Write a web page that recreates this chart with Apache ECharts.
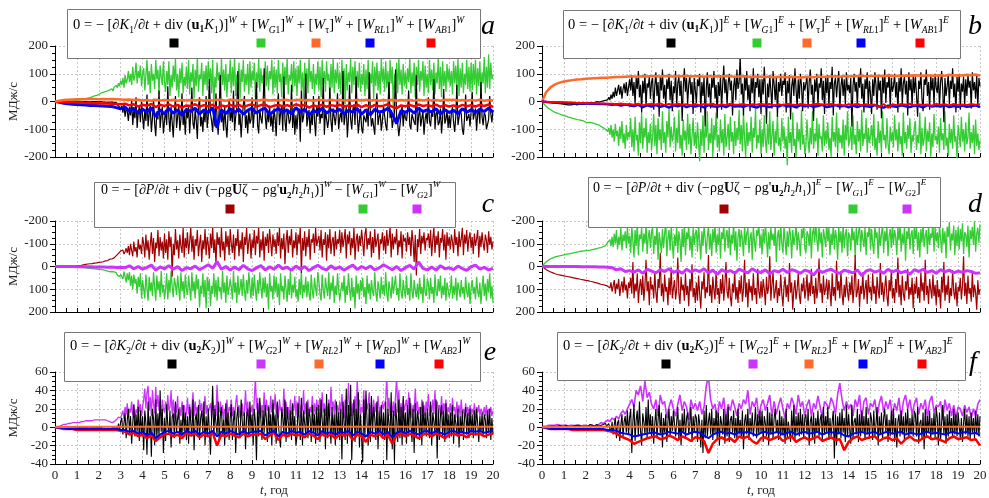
<!DOCTYPE html>
<html>
<head>
<meta charset="utf-8">
<script src="https://cdn.jsdelivr.net/npm/echarts@6/dist/echarts.min.js"></script>
<style>
  html, body { margin: 0; padding: 0; background: #fff; }
  #main { width: 989px; height: 498px; }
</style>
</head>
<body>
<div id="main"></div>
<script>
// time steps of the sampled series (years)
var stepDense = 0.05, stepMid = 0.2, stepYear = 1;

// ---- panel a : K1, west (20 samples per year) ----
var aGreen = [0,
  0,0,1,0,1,0,1,1,2,1,1,2,1,2,2,3,2,3,3,4,
  4,5,5,6,7,8,9,10,11,12,13,14,15,17,18,20,21,22,24,25,
  26,30,27,33,29,36,32,38,35,42,40,46,38,52,45,58,50,66,55,75,
  60,85,50,95,65,80,110,70,100,60,125,75,95,140,65,110,85,130,55,100,
  120,40,95,150,60,110,30,135,75,100,45,150,80,115,25,130,90,60,145,70,
  35,110,60,145,20,95,50,130,70,155,40,100,15,120,65,140,30,90,55,125,
  45,150,25,105,70,135,10,115,55,160,35,95,80,140,20,110,60,130,40,145,
  65,120,30,150,-20,90,50,140,75,105,25,155,60,115,40,135,15,100,70,150,
  30,125,55,160,20,95,45,140,10,115,70,150,35,100,60,135,25,145,50,110,
  75,140,15,105,50,155,35,120,65,95,20,145,55,130,40,110,80,150,25,125,
  50,115,30,150,70,100,15,140,45,125,60,155,25,95,75,135,35,145,55,120,
  20,130,65,150,40,105,10,140,55,120,30,155,70,110,45,135,25,100,60,145,
  40,125,15,150,60,110,35,145,75,100,20,135,50,155,30,115,65,140,45,105,
  25,150,55,120,-10,135,40,105,70,155,30,125,60,145,15,110,50,140,35,100,
  60,135,20,115,45,150,30,100,65,145,10,125,55,140,40,110,25,155,70,120,
  35,145,50,110,20,150,65,125,-40,100,45,140,30,155,60,115,25,135,55,105,
  45,120,70,155,30,105,55,140,15,125,60,150,35,110,75,145,20,130,50,100,
  30,150,60,115,40,140,25,105,65,155,45,125,15,145,55,110,35,135,70,120,
  55,110,25,145,65,130,40,155,20,120,50,140,30,100,60,150,45,125,35,140,
  40,135,60,150,25,120,55,145,35,105,65,160,30,125,50,170,45,140,80,95];
var aBlack = [0,
  0,0,0,0,0,0,0,0,0,0,0,0,0,0,0,0,0,0,0,0,
  0,0,0,-1,0,0,-1,0,0,-1,0,-1,0,0,-1,0,-1,0,0,-1,
  -1,0,-1,-2,-1,-2,0,-3,-1,-2,-4,-2,-5,-3,-8,-4,-12,-6,-20,-30,
  -15,-40,-10,-55,-25,-35,-70,-20,-50,5,-85,-30,-60,15,-95,-40,-20,-75,0,-55,
  -100,-30,-70,25,-90,-45,-15,-110,-60,10,-80,-125,-35,-65,40,-95,-50,-20,-115,-70,
  -30,-85,55,-60,-110,-20,-75,-130,-40,20,-95,-55,-10,-105,-65,30,-85,-45,-120,-25,
  -60,-15,-115,-40,50,-80,-100,-30,-70,-135,-20,15,-90,-55,-110,-35,-75,20,-95,-50,
  80,-45,-70,-110,-25,-90,30,-60,-120,-15,95,-75,-40,-105,-20,-85,-130,-50,5,-70,
  -35,-75,40,-105,-55,-25,110,-85,-45,-130,-60,-10,20,-95,-50,-115,-30,-80,-65,15,
  -95,-40,-10,70,-85,-115,-30,-60,-80,-20,120,-55,-100,-35,-75,-15,-90,-50,-110,-25,
  -60,-125,-20,30,-85,-40,-15,-105,90,-70,-110,-30,-45,-80,-65,60,-95,-25,-120,-50,
  -100,-35,-25,-145,40,-75,-55,-15,100,-90,-60,-30,-115,-45,-85,20,-70,-125,-20,-55,
  20,-80,-45,-60,85,-120,-30,-35,-95,-65,50,-70,-110,-25,-55,-85,-40,30,-100,-60,
  -40,-75,110,-85,-50,-20,-130,-60,60,-65,-100,-30,-10,-85,90,-45,-115,-70,-25,-95,
  -115,-50,-45,-75,-25,-90,105,-35,-90,-60,-60,-120,-20,30,-85,-55,-40,-105,-70,-15,
  -50,-85,-105,-30,70,-60,-30,-95,-65,-40,115,-70,-80,-125,-125,-50,-15,-90,-35,-60,
  -70,-30,40,-85,-100,-45,-45,-75,-85,95,-110,-55,-20,-90,-60,-35,-120,-65,-40,-80,
  15,-70,-90,-35,-55,80,-100,-45,-35,-85,-75,-25,-115,-60,45,-80,-65,-30,-95,-50,
  -95,-40,-20,-75,-110,-55,60,-85,-80,-30,-45,-100,-120,-60,25,-70,-70,-45,-90,-35,
  35,-65,-60,-25,-105,-45,-30,-80,70,-55,-85,-40,-50,-100,-95,-65,20,-45,-75,-30];
var aBlue = [0,
  -3,-6,-8,-10,-11,
  -12,-13,-14,-14,-15,
  -16,-17,-18,-22,-26,
  -20,-35,-24,-42,-28,
  -38,-22,-55,-30,-45,
  -25,-42,-30,-50,-28,
  -36,-24,-45,-30,-40,
  -22,-95,-30,-44,-26,
  -40,-28,-46,-32,-24,
  -42,-30,-25,-48,-34,
  -26,-40,-30,-45,-22,
  -38,-28,-50,-32,-40,
  -24,-42,-30,-36,-28,
  -44,-32,-38,-26,-46,
  -30,-48,-28,-38,-34,
  -24,-45,-80,-32,-40,
  -28,-42,-24,-36,-30,
  -38,-26,-45,-30,-40,
  -32,-44,-26,-38,-30,
  -40,-28,-36,-24,-38];
var aRed = [0,
  -1,-2,-3,-3,-4,
  -4,-5,-5,-6,-6,
  -7,-7,-8,-9,-10,
  -8,-14,-10,-18,-12,
  -15,-9,-20,-12,-16,
  -10,-18,-12,-22,-14,
  -16,-10,-19,-13,-17,
  -11,-24,-14,-18,-12,
  -17,-12,-20,-14,-10,
  -18,-13,-11,-21,-15,
  -12,-17,-13,-19,-10,
  -16,-12,-22,-14,-18,
  -11,-19,-13,-16,-12,
  -18,-14,-17,-11,-20,
  -13,-21,-12,-17,-15,
  -10,-19,-24,-14,-17,
  -12,-18,-11,-16,-13,
  -17,-11,-19,-13,-18,
  -14,-19,-12,-17,-13,
  -18,-12,-16,-11,-20];
var aOrange = [0,
  3,5,6,7,8,
  8,8,9,9,8,
  9,8,9,8,7,
  6,7,5,6,4,
  5,3,6,4,5,
  4,6,3,5,4,
  5,4,6,3,5,
  4,6,5,3,6,
  5,4,6,4,5,
  3,5,6,4,5,
  4,6,5,3,5,
  6,4,5,3,6,
  5,3,6,4,5,
  4,5,3,6,4,
  6,4,5,3,5,
  4,6,3,5,4,
  5,3,6,4,6,
  4,5,3,6,5,
  6,4,5,3,5,
  4,6,3,5,4];

// ---- panel b : K1, east ----
var bGreen = [0,
  -5,-10,-14,-18,-21,-25,-28,-30,-33,-35,-37,-39,-41,-42,-44,-45,-47,-48,-50,-51,
  -52,-53,-55,-56,-57,-58,-60,-61,-62,-63,-64,-65,-67,-66,-70,-68,-72,-70,-74,-75,
  -74,-76,-78,-75,-80,-77,-83,-80,-85,-82,-88,-85,-84,-90,-88,-95,-92,-100,-98,-108,
  -95,-120,-85,-130,-100,-145,-80,-125,-105,-160,-90,-135,-70,-150,-115,-170,-85,-140,-110,-130,
  -60,-165,-100,-180,-55,-140,-120,-195,-75,-150,-40,-170,-95,-130,-60,-185,-110,-150,-80,-175,
  -130,-45,-160,-85,-190,-60,-140,-100,-175,-35,-150,-110,-185,-70,-130,-25,-165,-90,-145,-120,
  -55,-180,-95,-150,-30,-170,-120,-195,-65,-140,-105,-175,-45,-155,-80,-190,-125,-60,-160,-110,
  -170,-75,-145,-215,-100,-160,-50,-185,-90,-130,-35,-175,-115,-150,-60,-200,-85,-140,-40,-165,
  -120,-180,-65,-150,-100,-195,-45,-165,-130,-80,-175,-55,-145,-110,-190,-70,-160,-95,-140,-30,
  -155,-85,-180,-40,-135,-200,-75,-160,-110,-145,-55,-185,-95,-130,-25,-170,-120,-150,-65,-190,
  -100,-165,-50,-140,-185,-80,-155,-35,-175,-120,-70,-195,-105,-150,-45,-160,-130,-180,-60,-145,
  -90,-170,-125,-230,-55,-150,-110,-185,-40,-160,-135,-200,-75,-145,-100,-175,-30,-155,-120,-190,
  -160,-65,-140,-185,-95,-155,-35,-170,-115,-145,-60,-195,-80,-135,-125,-180,-50,-160,-105,-150,
  -75,-175,-130,-200,-55,-145,-110,-165,-40,-185,-95,-150,-120,-170,-65,-195,-85,-140,-35,-160,
  -140,-90,-175,-50,-155,-120,-190,-70,-145,-100,-180,-30,-160,-115,-135,-60,-185,-95,-150,-125,
  -85,-160,-45,-175,-130,-195,-70,-150,-105,-185,-35,-140,-120,-170,-60,-155,-190,-90,-145,-110,
  -165,-50,-140,-100,-180,-75,-155,-125,-195,-40,-150,-110,-170,-85,-135,-60,-185,-120,-145,-95,
  -70,-175,-120,-150,-40,-190,-95,-160,-135,-55,-180,-105,-145,-75,-200,-115,-165,-45,-140,-125,
  -155,-90,-185,-60,-140,-115,-175,-35,-160,-130,-195,-80,-150,-100,-170,-50,-145,-125,-205,-85,
  -120,-165,-55,-145,-100,-180,-75,-155,-130,-40,-170,-110,-150,-85,-190,-65,-160,-115,-175,-140];
var bBlack = [0,
  0,-1,-1,-2,-2,-3,-3,-4,-5,-5,-6,-6,-7,-7,-8,-8,-9,-9,-10,-10,
  -10,-11,-10,-12,-11,-12,-13,-11,-12,-10,-11,-12,-10,-9,-11,-10,-9,-10,-8,-9,
  -8,-7,-6,-5,-7,-4,-3,-5,-2,0,1,-2,3,0,5,2,8,4,10,6,
  15,5,25,10,35,15,50,20,40,60,25,55,10,45,65,30,70,20,50,80,
  40,95,20,70,-10,85,45,110,15,60,-40,75,30,100,-20,65,50,90,10,70,
  85,-30,55,105,20,70,-55,90,40,115,10,60,-20,80,45,100,5,75,-35,55,
  30,110,-15,65,90,20,75,-70,50,120,35,85,-10,60,95,25,70,-45,85,40,
  -5,80,55,100,-40,70,20,90,-90,45,105,15,65,-25,85,50,110,10,60,-60,
  70,20,95,-30,60,130,30,80,-15,65,100,40,75,-50,55,90,5,115,45,70,
  160,25,65,-50,95,40,110,5,60,-35,85,30,120,-20,70,50,100,15,80,-45,
  80,25,125,45,-80,65,15,95,40,-25,110,60,5,85,-55,70,35,100,20,75,
  60,105,-40,75,30,95,-65,55,85,20,120,45,-25,80,10,100,55,-35,70,40,
  45,90,-25,70,115,25,60,-70,80,35,100,-15,65,50,120,5,75,-45,90,30,
  95,-20,70,45,125,-50,65,85,15,70,110,-30,55,90,20,80,-10,105,40,60,
  30,85,-90,55,100,35,70,-20,95,50,120,10,65,-40,80,45,105,-15,75,25,
  -45,80,20,105,60,-30,90,40,75,-60,95,30,115,-5,70,50,100,-25,85,35,
  55,100,15,70,-40,85,35,120,-10,65,90,25,75,-50,105,40,80,-20,95,30,
  90,25,-55,75,45,105,10,-35,80,60,115,20,70,-30,95,40,85,-15,100,50,
  30,95,-20,70,110,40,-75,85,20,55,100,-10,75,45,120,15,65,-40,90,35,
  100,-30,65,35,90,-15,80,20,95,50,75,-25,105,40,70,10,95,-20,85,55];
var bOrange = [0,
  35,52,62,68,72,
  75,77,79,80,82,
  83,84,85,86,86,
  87,88,88,89,90,
  90,89,91,90,92,
  91,90,92,91,90,
  92,91,93,90,92,
  91,89,92,90,91,
  90,92,91,89,90,
  91,90,88,90,89,
  88,90,87,89,88,
  87,89,88,86,88,
  89,87,90,88,89,
  90,91,89,92,90,
  91,92,93,91,92,
  92,93,91,94,92,
  93,92,94,93,95,
  94,92,95,93,94,
  95,93,96,94,95,
  94,96,95,97,93];
var bBlue = [0,
  -2,-3,-4,-4,-5,
  -5,-6,-6,-7,-7,
  -8,-8,-9,-9,-10,
  -12,-10,-15,-11,-14,
  -16,-12,-20,-14,-18,
  -13,-19,-15,-22,-14,
  -17,-12,-20,-15,-18,
  -14,-21,-13,-17,-19,
  -15,-20,-12,-18,-16,
  -19,-13,-17,-22,-14,
  -16,-20,-14,-18,-12,
  -18,-15,-21,-13,-17,
  -14,-19,-16,-12,-20,
  -17,-13,-18,-15,-21,
  -15,-20,-14,-17,-19,
  -13,-18,-22,-15,-17,
  -19,-14,-17,-20,-15,
  -16,-21,-13,-18,-15,
  -18,-14,-20,-16,-19,
  -15,-19,-17,-14,-20];
var bRed = [0,
  -1,-2,-2,-3,-3,
  -4,-4,-5,-5,-5,
  -6,-6,-7,-7,-8,
  -8,-10,-7,-11,-9,
  -12,-8,-14,-10,-9,
  -11,-7,-13,-9,-12,
  -8,-12,-10,-14,-9,
  -13,-9,-11,-8,-15,
  -10,-13,-8,-12,-11,
  -9,-14,-10,-12,-8,
  -12,-9,-15,-10,-13,
  -8,-11,-13,-9,-12,
  -14,-10,-8,-12,-11,
  -9,-13,-11,-15,-10,
  -12,-8,-14,-10,-13,
  -11,-20,-9,-22,-10,
  -13,-9,-12,-8,-14,
  -10,-13,-11,-15,-9,
  -12,-10,-14,-9,-13,
  -11,-13,-9,-12,-10];

// ---- panel c : P, west (axis inverted) ----
var cRed = [0,
  0,0,0,-1,0,-1,0,-1,-1,-1,-2,-1,-2,-2,-1,-2,-3,-2,-3,-3,
  -4,-4,-5,-5,-6,-7,-8,-9,-10,-11,-12,-12,-11,-13,-14,-15,-14,-16,-17,-18,
  -18,-19,-20,-21,-22,-25,-28,-26,-30,-32,-30,-33,-35,-38,-42,-48,-52,-58,-62,-68,
  -60,-72,-55,-65,-80,-60,-90,-50,-100,-70,-45,-110,-65,-85,-40,-120,-75,-95,-55,-130,
  -100,-40,-140,-70,-115,-30,-95,-150,-55,-125,-20,-105,-80,-160,-45,-130,-70,-110,-35,-145,
  -60,-120,-30,-155,-85,-130,45,-100,-50,-165,-75,-115,-35,-140,-90,-60,-170,-40,-125,-80,
  -150,-55,-110,-170,-65,-135,-30,-120,-90,-160,-45,-100,-140,-20,-115,-75,-165,-50,-130,-95,
  -35,-145,-80,-175,-60,-120,-10,-150,-95,-130,-40,-170,-70,-110,-25,-155,-85,-135,-50,-165,
  -100,-60,-140,-30,-125,-90,-165,-45,-115,-75,-150,-20,-130,-95,-170,-55,-110,-145,-35,-120,
  -80,-160,-50,-135,-100,-175,-40,-120,-70,-155,-25,-130,-90,-145,-60,-165,-105,-45,-140,-85,
  -120,-55,-150,-90,-170,-35,-125,-75,-145,-10,-110,-160,-60,-135,-95,-165,-40,-115,-80,-150,
  -50,-140,-100,-175,30,-125,-70,-155,-45,-130,-85,-165,-30,-120,-105,-145,-60,-170,-90,-115,
  -135,-70,-160,-40,-120,-95,-150,-25,-140,-80,-165,-55,-110,-130,-45,-155,-75,-120,-100,-160,
  -60,-150,-85,-120,-165,-35,-140,-100,-155,-50,-125,-80,-170,-30,-115,-145,-65,-135,-90,-160,
  -110,-45,-140,-170,-75,-125,-95,-155,-40,-130,-60,-165,-85,-115,-145,-30,-120,-100,-150,-70,
  -135,-55,-160,-90,-120,-175,-40,-145,-75,-130,-100,-165,-50,-115,-85,-155,-35,-140,-110,-125,
  -65,-150,-95,-130,-45,-160,-110,-20,-140,40,-120,-85,-165,-55,-135,-100,-150,-70,-125,-115,
  -145,-80,-160,-45,-120,-170,-60,-135,-95,-155,-40,-125,-105,-165,-70,-140,-30,-150,-90,-130,
  -75,-140,-110,-60,-165,-95,-130,-45,-155,-85,-120,-170,-50,-140,-100,-160,-65,-125,-150,-80,
  -130,-55,-145,-90,-120,-160,-40,-135,-85,-150,-100,-70,-140,-115,-60,-155,-95,-130,-75,-110];
var cGreen = [0,
  0,0,0,0,0,1,1,1,1,1,1,2,2,2,2,2,3,3,3,3,
  3,4,4,4,5,5,5,6,6,7,7,8,8,9,9,10,10,11,11,12,
  12,13,14,15,16,17,18,20,21,23,25,22,28,24,32,27,38,30,45,35,
  28,55,22,45,70,30,60,25,85,40,100,35,75,55,120,45,90,30,140,60,
  60,140,35,95,150,45,110,70,130,25,90,150,40,105,65,135,20,115,80,145,
  100,30,145,60,115,20,90,135,50,80,125,40,95,150,25,110,65,140,35,100,
  125,40,95,150,25,110,65,140,35,100,55,180,85,120,30,135,60,185,45,110,
  55,175,85,120,30,135,60,150,45,110,90,145,20,115,70,160,40,125,95,55,
  90,145,20,115,70,160,40,125,95,55,130,35,105,150,60,120,25,90,140,50,
  130,35,105,150,60,120,25,90,140,50,115,45,135,75,190,30,110,85,145,40,
  115,45,135,75,170,30,110,85,145,40,100,155,55,125,20,140,80,115,45,135,
  100,155,55,125,20,140,80,115,45,135,65,120,150,35,105,140,50,95,130,25,
  65,120,150,35,105,140,50,95,130,25,145,70,110,40,160,85,125,30,100,150,
  145,70,110,40,160,85,125,30,100,150,50,135,90,185,40,120,75,145,60,110,
  50,135,90,165,40,120,75,145,60,110,130,25,115,155,65,100,140,45,120,80,
  130,25,115,155,65,100,140,45,120,80,40,125,95,150,30,110,140,60,105,135,
  40,125,95,150,30,110,140,60,105,135,75,145,50,120,90,160,35,115,130,55,
  75,145,50,120,90,160,35,115,130,55,110,40,140,85,125,50,150,70,100,135,
  110,40,140,85,125,50,150,70,100,135,60,120,90,145,45,110,135,70,165,95,
  60,120,90,145,45,110,135,70,165,95,40,130,75,150,55,115,30,140,85,160];
var cMag = [0,
  0,0,0,0,1,
  1,1,1,2,2,
  2,3,2,4,3,
  5,-3,10,0,12,
  4,-6,15,2,10,
  -4,12,0,18,5,
  10,-2,14,3,-8,
  8,-22,12,0,16,
  2,14,-5,10,18,
  6,-4,15,1,12,
  -6,10,3,16,-2,
  12,0,18,5,-5,
  8,15,-3,11,2,
  16,4,-6,13,0,
  10,-2,15,6,-8,
  3,14,0,18,5,
  -5,11,-20,8,15,
  2,16,-4,10,6,
  14,-2,9,17,1,
  -6,12,4,15,8];

// ---- panel d : P, east (axis inverted) ----
var dGreen = [0,
  -6,-12,-17,-21,-25,-28,-31,-34,-36,-38,-40,-42,-44,-45,-46,-47,-48,-49,-50,-51,
  -52,-53,-54,-55,-56,-57,-58,-59,-60,-61,-62,-63,-64,-65,-66,-67,-68,-69,-70,-70,
  -70,-71,-73,-72,-75,-74,-77,-76,-80,-78,-84,-82,-86,-83,-90,-88,-95,-92,-100,-106,
  -98,-118,-90,-130,-85,-145,-100,-160,-75,-130,-95,-170,-70,-140,-110,-155,-80,-175,-100,-135,
  -60,-175,-110,-40,-160,-90,-190,-50,-140,-120,-170,-65,-145,-100,-185,-55,-130,-160,-80,-150,
  -170,-55,-135,-95,-185,-30,-150,-110,-60,-165,-80,-145,-195,-45,-125,-160,-70,-180,-100,-35,
  -140,-90,-175,-60,-155,-115,-20,-165,-85,-190,-50,-150,-120,-180,-70,-135,-40,-170,-95,-145,
  -160,-65,-185,-110,-30,-155,-90,-175,-125,-55,-130,-180,-75,-145,-45,-165,-105,-190,-60,-140,
  -95,-170,-35,-150,-120,-185,-65,-135,-160,-80,-175,-50,-140,-100,-195,-70,-155,-25,-130,-165,
  -85,-160,-120,-45,-180,-95,-145,-170,-60,-125,-150,-30,-175,-110,-65,-160,-135,-190,-80,-140,
  -55,-165,-100,-185,-125,-40,-150,-75,-170,-115,-145,-90,-180,-20,-135,-160,-70,-190,-105,-60,
  -175,-115,-50,-155,-85,-170,-140,-35,-160,-95,-130,-185,-70,-150,-110,-45,-165,-125,-195,-80,
  -60,-155,-140,-90,-175,-35,-145,-170,-105,-190,-120,-65,-180,-100,-150,-40,-165,-130,-85,-200,
  -110,-170,-50,-145,-95,-185,-75,-160,-125,-30,-175,-105,-155,-60,-190,-80,-140,-165,-45,-150,
  -135,-70,-180,-115,-155,-40,-170,-95,-145,-190,-65,-160,-120,-85,-175,-50,-150,-130,-195,-75,
  -165,-100,-55,-180,-125,-150,-35,-170,-90,-140,-185,-60,-155,-110,-175,-45,-135,-165,-80,-190,
  -95,-160,-130,-50,-175,-115,-185,-65,-145,-100,-170,-25,-155,-120,-190,-75,-140,-160,-55,-180,
  -120,-175,-70,-150,-40,-165,-105,-185,-85,-135,-160,-55,-180,-95,-145,-125,-195,-65,-170,-110,
  -150,-80,-185,-120,-60,-170,-100,-155,-35,-175,-130,-195,-70,-145,-115,-180,-50,-160,-90,-175,
  -75,-165,-110,-190,-55,-150,-140,-85,-180,-40,-160,-120,-175,-95,-200,-65,-145,-170,-105,-185];
var dRed = [0,
  3,7,11,14,17,20,22,24,26,28,30,32,34,35,36,37,38,39,40,41,
  42,43,44,45,46,47,48,49,50,51,52,53,54,55,56,57,58,59,60,61,
  60,62,63,65,64,67,66,70,68,72,71,75,73,78,76,80,78,83,81,86,
  80,95,70,110,85,60,120,75,100,55,130,90,65,115,45,105,80,140,70,95,
  50,120,-20,140,75,110,30,160,90,55,125,40,150,85,-30,110,65,170,45,100,
  80,140,20,115,160,55,95,-60,130,75,155,35,110,90,170,50,125,5,140,95,
  60,145,100,-40,120,165,45,105,80,150,30,125,85,175,55,110,-10,135,95,160,
  70,150,40,120,185,65,100,25,140,90,115,-50,130,80,160,45,105,145,20,125,
  95,165,55,120,35,150,80,-20,110,140,50,130,175,75,115,20,145,90,160,60,
  120,40,155,100,-30,135,70,180,55,115,85,150,30,125,95,165,10,110,140,65,
  135,55,100,170,45,120,90,-45,150,80,25,140,110,60,160,95,130,35,120,175,
  90,45,135,80,155,-15,115,70,190,100,60,145,100,30,125,165,75,110,50,140,
  105,35,150,70,130,10,120,85,165,50,140,95,-35,115,75,160,40,125,100,55,
  145,60,110,175,30,130,90,150,-25,105,65,140,20,120,170,80,135,45,110,150,
  70,125,40,160,95,-50,135,110,55,180,85,120,25,145,100,60,165,35,115,90,
  150,30,120,85,165,45,105,140,-15,125,70,155,95,40,130,175,60,110,20,140,
  95,160,55,115,-40,135,80,170,40,120,150,65,105,10,145,90,125,50,185,75,
  120,45,140,90,160,25,110,70,150,-30,125,85,165,55,100,140,35,130,80,170,
  60,135,100,185,45,115,-20,150,80,125,40,160,95,130,15,110,145,70,175,90,
  110,50,145,85,-45,130,70,165,40,120,95,155,25,135,80,115,190,60,125,100];
var dMag = [0,
  0,0,0,0,0,
  0,0,0,1,1,
  1,1,2,2,3,
  5,15,10,22,18,
  25,15,30,12,20,
  28,14,22,10,26,
  18,30,12,24,15,
  22,10,28,16,35,
  14,24,18,30,12,
  20,28,10,22,26,
  15,32,18,24,12,
  26,14,20,30,16,
  22,38,14,26,18,
  12,24,30,16,22,
  28,15,40,20,14,
  25,18,30,12,24,
  16,28,20,34,14,
  22,12,26,18,30,
  14,24,16,28,20,
  26,18,22,30,28];

// ---- panel e : K2, west ----
var eMag = [0,
  0,1,1,1,2,2,2,3,3,3,3,4,4,4,4,5,5,5,5,5,
  5,5,6,6,6,6,6,7,7,7,7,7,8,7,8,8,8,8,8,8,
  8,8,9,8,9,8,8,7,7,6,6,5,5,6,7,8,9,11,13,10,
  12,18,9,22,14,26,11,20,16,28,13,24,10,19,15,30,17,25,12,22,
  30,42,20,38,45,18,33,12,40,25,15,44,22,35,18,28,12,30,20,16,
  28,12,35,18,22,40,14,30,10,26,16,34,8,22,12,28,18,24,10,15,
  32,14,25,10,20,38,12,28,15,22,10,30,18,26,12,20,34,14,24,16,
  14,26,10,30,18,24,12,46,20,16,28,12,24,8,20,14,30,10,22,18,
  30,12,22,8,26,35,16,24,10,20,26,12,18,40,14,28,10,22,16,24,
  12,30,55,20,32,14,28,10,24,16,38,12,30,18,24,10,34,16,26,20,
  36,14,26,10,30,18,22,12,42,16,28,12,22,8,30,14,24,18,34,12,
  28,15,34,10,24,18,40,14,26,10,30,12,22,16,34,12,26,14,30,18,
  18,32,10,38,16,26,12,24,14,30,12,44,20,28,14,30,18,24,12,28,
  14,36,22,10,30,16,24,48,18,28,12,26,16,34,12,52,24,30,14,22,
  16,40,12,30,20,26,38,14,24,10,30,16,26,12,34,18,22,14,28,20,
  22,30,55,18,32,12,26,16,28,12,34,55,16,40,14,26,10,30,18,24,
  30,12,38,20,26,10,24,16,42,18,28,14,22,10,30,16,24,12,28,18,
  36,12,24,16,30,14,40,10,28,20,24,12,34,14,26,18,30,12,22,16,
  26,12,32,18,22,10,28,16,24,12,30,14,20,10,26,16,22,12,24,14,
  20,14,26,10,22,16,24,12,20,18,14,22,12,24,10,20,16,22,12,18];
var eBlack = [0,
  0,0,0,0,0,0,0,0,0,0,0,0,0,0,0,0,0,0,0,0,
  0,0,0,-1,0,0,-1,0,0,-1,0,-1,0,0,-1,0,-1,0,0,-1,
  -1,0,-1,-2,-1,-2,0,-3,-1,-2,-2,-1,-3,0,-2,1,-3,4,-4,6,
  10,-8,5,15,-12,8,20,-6,12,-18,4,25,-10,14,-5,22,-15,18,-8,12,
  -25,18,5,-30,28,-10,12,-32,20,8,-20,30,-12,15,-10,40,-5,20,-28,10,
  -15,25,2,-8,18,-22,12,15,-12,28,-6,10,20,-18,8,-10,24,-4,16,-14,
  12,-18,22,5,-10,30,-25,8,15,-8,24,-14,10,18,-6,28,-20,12,-10,20,
  18,-30,10,45,-12,20,4,-8,28,-16,14,22,-10,8,-20,26,-6,16,-14,10,
  25,-14,8,18,-28,10,22,-5,-12,30,6,-8,16,-24,12,20,-10,28,-6,14,
  -20,20,5,-36,26,-10,32,8,-14,18,-6,24,10,-16,22,-8,14,-20,30,-4,
  14,-18,28,4,-12,-22,20,10,-8,30,-16,22,6,-10,18,-14,26,-6,12,-20,
  -10,26,6,-14,32,-20,18,4,-8,28,-12,20,10,-16,24,-6,14,-18,22,-8,
  24,-16,30,8,-10,20,-24,36,-12,26,6,-18,22,-8,14,-20,28,-10,16,-14,
  20,-35,28,6,-14,42,-18,24,-10,46,-36,12,30,-16,20,-8,38,-22,14,-12,
  -38,30,-12,40,6,-20,26,-16,34,-8,22,10,-14,28,-24,18,-6,24,-12,16,
  -14,28,-36,20,4,-10,38,-24,18,-38,26,8,-16,30,-12,22,-20,34,-8,16,
  -18,24,-10,32,6,-16,20,-28,26,-12,18,8,-14,22,-20,28,-6,16,-10,20,
  22,-12,28,-20,16,6,-8,30,-34,20,-14,12,24,-10,18,-16,26,-6,14,-12,
  16,-10,24,-18,14,4,-8,20,-22,12,-6,18,-14,10,22,-8,16,-12,20,-6,
  14,-12,18,-8,20,4,-16,12,-6,16,-10,14,8,-12,18,-6,20,-14,10,-8];
var eBlue = [0,
  -1,-1,-2,-2,-2,
  -2,-2,-2,-2,-2,
  -2,-2,-2,-2,-3,
  -3,-5,-4,-7,-5,
  -9,-6,-12,-8,-5,
  -4,-7,-5,-8,-4,
  -6,-4,-8,-5,-7,
  -4,-10,-5,-7,-4,
  -6,-8,-4,-7,-5,
  -5,-4,-9,-6,-4,
  -10,-5,-7,-4,-6,
  -5,-8,-4,-6,-9,
  -4,-7,-5,-8,-5,
  -6,-4,-9,-5,-7,
  -10,-5,-7,-4,-8,
  -5,-11,-6,-4,-7,
  -4,-6,-8,-5,-4,
  -7,-4,-6,-8,-5,
  -4,-6,-5,-7,-4,
  -5,-4,-6,-5,-4];
var eRed = [0,
  -1,-2,-2,-2,-3,
  -3,-3,-3,-3,-3,
  -3,-3,-3,-3,-4,
  -5,-8,-6,-10,-8,
  -12,-9,-15,-11,-8,
  -7,-10,-8,-12,-6,
  -9,-7,-11,-8,-10,
  -6,-20,-8,-10,-7,
  -9,-11,-7,-10,-8,
  -8,-7,-13,-9,-6,
  -14,-8,-10,-7,-9,
  -8,-11,-7,-9,-13,
  -7,-10,-8,-12,-8,
  -9,-7,-14,-8,-10,
  -16,-8,-10,-7,-12,
  -8,-18,-9,-7,-10,
  -7,-9,-12,-8,-7,
  -10,-7,-9,-12,-8,
  -7,-9,-8,-11,-7,
  -8,-7,-10,-8,-7];
var eOrange = [0, 0.5,0.5,0.6,0.5,0.5,0.6,0.5,0.5,0.6,0.5,0.5,0.6,0.5,0.5,0.6,0.5,0.5,0.6,0.5,0.5];

// ---- panel f : K2, east ----
var fMag = [0,
  1,1,2,2,2,2,3,2,2,2,
  2,1,2,2,1,2,2,1,2,2,
  1,2,2,1,2,3,5,4,6,8,
  6,10,8,12,9,15,18,14,20,25,
  30,22,40,35,45,28,50,32,38,25,
  20,30,12,35,25,28,10,22,30,20,
  12,25,35,18,28,22,8,30,20,26,
  18,28,14,22,45,55,30,20,25,10,
  28,20,32,8,25,18,30,22,12,26,
  20,30,25,40,14,28,22,32,10,24,
  30,18,26,35,12,28,14,24,32,20,
  10,26,20,32,25,14,35,22,28,12,
  24,30,12,26,20,34,22,10,28,25,
  20,32,26,14,36,48,30,18,28,20,
  25,12,30,22,35,8,28,32,14,26,
  22,30,10,26,34,16,28,20,30,12,
  26,18,32,10,28,35,20,30,14,25,
  32,14,26,20,30,10,28,34,16,24,
  22,28,8,30,18,26,12,24,10,22,
  20,12,24,16,22,10,20,12,25,30];
var fBlack = [0,
  0,0,1,0,1,0,1,1,0,1,1,1,0,1,1,2,1,1,2,1,
  1,2,1,1,2,1,2,1,2,2,1,2,1,2,2,1,2,1,2,1,
  2,1,2,3,1,2,3,1,2,3,2,1,3,2,1,3,2,4,1,3,
  4,-2,-5,6,-8,3,10,-12,5,8,-15,2,14,-10,6,12,-6,18,-8,10,
  20,-28,6,25,-15,8,18,-10,28,-4,-20,15,6,-8,22,-12,30,-6,14,-10,
  12,-18,4,20,-12,8,24,-8,16,-22,10,-6,14,-16,6,20,-10,12,-4,18,
  18,-10,6,22,-14,8,-20,15,-6,20,-12,10,16,-8,4,22,-16,12,-6,14,
  10,-16,14,4,-22,8,-28,18,-12,24,-10,6,16,-8,20,-14,10,-6,18,-12,
  16,-20,12,4,-8,20,-18,14,-10,22,-16,8,12,-6,18,-12,10,-14,20,-8,
  8,-12,18,-24,6,14,-8,20,-14,10,-6,16,-10,4,22,-12,14,-8,18,-6,
  18,-16,12,4,-10,22,-20,16,-8,14,-12,10,20,-6,8,-14,18,-10,12,-8,
  10,-18,20,-12,6,8,-16,18,-10,24,-14,12,-6,16,-10,20,-8,14,-12,10,
  14,-8,20,-20,6,12,-12,16,-18,10,-6,18,-10,8,14,-14,22,-8,12,-6,
  22,-14,10,-10,6,18,-34,14,-20,12,-8,16,-12,20,-6,10,-16,24,-10,14,
  16,-18,24,-12,6,10,-8,20,-16,14,-10,18,-6,12,-14,22,-8,10,-12,16,
  8,-14,18,-10,4,22,-20,12,-8,16,-12,10,20,-6,14,-16,8,-10,18,-8,
  20,-16,10,-22,6,14,-10,18,-8,12,-14,16,-6,20,-12,10,-8,14,-10,18,
  14,-10,22,-18,4,8,-12,16,-24,20,-10,12,-6,18,-14,10,-8,16,-12,22,
  10,-20,16,-14,6,24,-8,12,-18,14,-10,18,-6,10,-12,20,-8,14,-10,16,
  18,-12,10,-16,4,20,-8,14,-10,12,-14,16,-6,10,-12,18,-8,14,-10,12];
var fBlue = [0,
  -1,-2,-2,-2,-2,
  -2,-2,-2,-2,-2,
  -2,-2,-2,-2,-3,
  -3,-4,-6,-7,-8,
  -10,-9,-8,-7,-6,
  -6,-8,-7,-5,-6,
  -7,-5,-8,-6,-5,
  -6,-9,-12,-8,-6,
  -5,-7,-6,-8,-5,
  -6,-5,-7,-9,-6,
  -5,-7,-6,-5,-8,
  -6,-5,-8,-6,-5,
  -7,-6,-5,-8,-6,
  -5,-7,-6,-9,-10,
  -7,-6,-5,-7,-6,
  -5,-8,-6,-5,-7,
  -6,-5,-8,-6,-7,
  -8,-6,-5,-7,-6,
  -7,-8,-6,-5,-7,
  -6,-5,-7,-6,-9];
var fRed = [0,
  -1,-2,-2,-2,-2,
  -2,-3,-3,-3,-3,
  -3,-3,-3,-3,-4,
  -5,-7,-10,-12,-14,
  -18,-16,-14,-12,-11,
  -10,-13,-12,-9,-11,
  -14,-10,-12,-15,-11,
  -12,-15,-28,-18,-13,
  -11,-14,-12,-16,-10,
  -12,-10,-15,-18,-12,
  -11,-14,-12,-10,-15,
  -12,-10,-16,-13,-11,
  -14,-12,-10,-15,-13,
  -11,-14,-13,-25,-16,
  -12,-10,-14,-12,-11,
  -10,-15,-12,-11,-14,
  -12,-18,-13,-10,-14,
  -15,-12,-10,-13,-12,
  -14,-16,-12,-10,-13,
  -12,-11,-14,-13,-20];
var fOrange = [0, 0.5,0.5,0.6,0.5,0.5,0.6,0.5,0.5,0.6,0.5,0.5,0.6,0.5,0.5,0.6,0.5,0.5,0.6,0.5,0.5];

// y axis ranges per row
var yRanges = [[-200, 200, 100], [-200, 200, 100], [-40, 60, 20]];

var C = {
  black: '#000000', green: '#33cc33', orange: '#ff6a2a',
  blue: '#0000ff', red: '#ff0000', maroon: '#a00000', magenta: '#cc33ff'
};
var serif = "'Liberation Serif', 'DejaVu Serif', serif";

function pts(vals, step) {
  return vals.map(function (v, i) { return [Math.round(i * step * 100) / 100, v]; });
}
function line(g, vals, step, color, w, extra) {
  var s = {
    type: 'line', xAxisIndex: g, yAxisIndex: g, data: pts(vals, step),
    symbol: 'none', silent: true, animation: false,
    lineStyle: { color: color, width: w }, itemStyle: { color: color }
  };
  if (extra) for (var k in extra) s[k] = extra[k];
  return s;
}

var grids = [], xAxes = [], yAxes = [];
for (var g = 0; g < 6; g++) {
  var col = g % 2, row = Math.floor(g / 2);
  var tops = [46, 221, 372], hs = [111, 91, 92];
  grids.push({ left: col ? 542 : 55, top: tops[row], width: 438, height: hs[row], outerBoundsMode: 'none' });
  xAxes.push({
    gridIndex: g, type: 'value', min: 0, max: 20, interval: 1,
    axisLine: { onZero: false, lineStyle: { color: '#000', width: 1 } },
    axisTick: { inside: true, length: 4, lineStyle: { color: '#000' } },
    minorTick: { show: true, splitNumber: 2, length: 4, lineStyle: { color: '#000' } },
    axisLabel: { show: row === 2, margin: 5, color: '#222', fontFamily: serif, fontSize: 13 },
    splitLine: { show: true, lineStyle: { color: '#c8c8c8', type: [2, 2], width: 1 } },
    name: row === 2 ? '{i|t}{n|, год}' : '',
    nameLocation: 'middle', nameGap: 20,
    nameTextStyle: {
      rich: {
        i: { fontFamily: serif, fontSize: 13, fontStyle: 'italic', color: '#222' },
        n: { fontFamily: serif, fontSize: 13, color: '#222' }
      }
    }
  });
  var r = yRanges[row];
  yAxes.push({
    gridIndex: g, type: 'value', min: r[0], max: r[1], interval: r[2],
    inverse: row === 1,
    axisLine: { show: true, onZero: false, lineStyle: { color: '#000', width: 1 } },
    axisTick: { show: true, length: 5, lineStyle: { color: '#000' } },
    minorTick: { show: true, splitNumber: 4, length: 3, lineStyle: { color: '#000' } },
    axisLabel: { margin: 7, color: '#222', fontFamily: serif, fontSize: 13 },
    splitLine: { show: true, lineStyle: { color: '#c8c8c8', type: [2, 2], width: 1 } },
    name: col === 0 ? 'МДж/с' : '',
    nameLocation: 'middle', nameGap: 35, nameRotate: 90,
    nameTextStyle: { fontFamily: serif, fontSize: 13, color: '#222' }
  });
}

var series = [
  line(0, aGreen, stepDense, C.green, 1.3),
  line(0, aBlack, stepDense, C.black, 1.2),
  line(0, aBlue, stepMid, C.blue, 3),
  line(0, aRed, stepMid, C.red, 2.5),
  line(0, aOrange, stepMid, C.orange, 2.5),

  line(1, bGreen, stepDense, C.green, 1.3, { clip: false }),
  line(1, bBlack, stepDense, C.black, 1.2),
  line(1, bOrange, stepMid, C.orange, 2.5),
  line(1, bBlue, stepMid, C.blue, 2.5),
  line(1, bRed, stepMid, C.red, 2),

  line(2, cGreen, stepDense, C.green, 1.3),
  line(2, cRed, stepDense, C.maroon, 1.2),
  line(2, cMag, stepMid, C.magenta, 3),

  line(3, dGreen, stepDense, C.green, 1.3),
  line(3, dRed, stepDense, C.maroon, 1.2),
  line(3, dMag, stepMid, C.magenta, 3),

  line(4, eMag, stepDense, C.magenta, 1.3),
  line(4, eBlack, stepDense, C.black, 1.1),
  line(4, eRed, stepMid, C.red, 2.5),
  line(4, eBlue, stepMid, C.blue, 2),
  line(4, eOrange, stepYear, C.orange, 2),

  line(5, fMag, 0.1, C.magenta, 1.6),
  line(5, fBlack, stepDense, C.black, 1.1),
  line(5, fRed, stepMid, C.red, 2.5),
  line(5, fBlue, stepMid, C.blue, 2),
  line(5, fOrange, stepYear, C.orange, 2)
];

// formula legends (rich text)
function makeRich(big, small) {
  return {
    n: { fontFamily: serif, fontSize: big, lineHeight: 20, color: '#000', verticalAlign: 'middle' },
    i: { fontFamily: serif, fontSize: big, lineHeight: 20, color: '#000', fontStyle: 'italic', verticalAlign: 'middle' },
    b: { fontFamily: serif, fontSize: big, lineHeight: 20, color: '#000', fontWeight: 'bold', verticalAlign: 'middle' },
    s: { fontFamily: serif, fontSize: small, lineHeight: 11, color: '#000', verticalAlign: 'bottom' },
    sb: { fontFamily: serif, fontSize: small, lineHeight: 11, color: '#000', fontWeight: 'bold', verticalAlign: 'bottom' },
    si: { fontFamily: serif, fontSize: small, lineHeight: 11, color: '#000', fontStyle: 'italic', verticalAlign: 'bottom' },
    p: { fontFamily: serif, fontSize: small, lineHeight: 10, color: '#000', fontStyle: 'italic', verticalAlign: 'top' }
  };
}
var richK = makeRich(14.5, 9.5), richP = makeRich(14, 9);
var fK1 = '{n|0 = − [∂}{i|K}{s|1}{n|/∂}{i|t}{n| + div (}{b|u}{sb|1}{i|K}{s|1}{n|)]}{p|X}{n| + [}{i|W}{si|G}{s|1}{n|]}{p|X}{n| + [}{i|W}{s|τ}{n|]}{p|X}{n| + [}{i|W}{si|RL}{s|1}{n|]}{p|X}{n| + [}{i|W}{si|AB}{s|1}{n|]}{p|X}';
var fP = '{n|0 = − [∂}{i|P}{n|/∂}{i|t}{n| + div (−ρg}{b|U}{n|ζ − ρg\'}{b|u}{sb|2}{i|h}{s|2}{i|h}{s|1}{n|)]}{p|X}{n| − [}{i|W}{si|G}{s|1}{n|]}{p|X}{n| − [}{i|W}{si|G}{s|2}{n|]}{p|X}';
var fK2 = '{n|0 = − [∂}{i|K}{s|2}{n|/∂}{i|t}{n| + div (}{b|u}{sb|2}{i|K}{s|2}{n|)]}{p|X}{n| + [}{i|W}{si|G}{s|2}{n|]}{p|X}{n| + [}{i|W}{si|RL}{s|2}{n|]}{p|X}{n| + [}{i|W}{si|RD}{n|]}{p|X}{n| + [}{i|W}{si|AB}{s|2}{n|]}{p|X}';
function sup(f, letter) { return f.split('{p|X}').join('{p|' + letter + '}'); }

var legends = [
  { box: [67, 9, 413, 49], tx: 73, ty: 25, text: sup(fK1, 'W'), rich: richK, sy: 43,
    sq: [[174, C.black], [261, C.green], [316, C.orange], [370, C.blue], [431, C.red]], letter: 'a', lx: 488, ly: 27 },
  { box: [563, 10, 397, 48], tx: 568, ty: 25, text: sup(fK1, 'E'), rich: richK, sy: 43,
    sq: [[671, C.black], [757, C.green], [807, C.orange], [861, C.blue], [920, C.red]], letter: 'b', lx: 975, ly: 27 },
  { box: [94, 182, 361, 45], tx: 101, ty: 190, text: sup(fP, 'W'), rich: richP, sy: 209,
    sq: [[230, C.maroon], [363, C.green], [417, C.magenta]], letter: 'c', lx: 488, ly: 205 },
  { box: [588, 177, 352, 50], tx: 593, ty: 188, text: sup(fP, 'E'), rich: richP, sy: 209,
    sq: [[724, C.maroon], [853, C.green], [907, C.magenta]], letter: 'd', lx: 975, ly: 205 },
  { box: [64, 332, 416, 49], tx: 70, ty: 346, text: sup(fK2, 'W'), rich: richK, sy: 364,
    sq: [[172, C.black], [261, C.magenta], [319, C.orange], [380, C.blue], [439, C.red]], letter: 'e', lx: 490, ly: 353 },
  { box: [557, 332, 408, 48], tx: 563, ty: 346, text: sup(fK2, 'E'), rich: richK, sy: 364,
    sq: [[666, C.black], [753, C.magenta], [809, C.orange], [863, C.blue], [922, C.red]], letter: 'f', lx: 973, ly: 363 }
];

var graphics = [];
legends.forEach(function (L) {
  graphics.push({
    type: 'rect', z: 100, silent: true,
    shape: { x: L.box[0] + 0.5, y: L.box[1] + 0.5, width: L.box[2], height: L.box[3] },
    style: { fill: '#fff', stroke: '#777', lineWidth: 1 }
  });
  graphics.push({
    type: 'text', z: 101, silent: true, x: L.tx, y: L.ty,
    style: { text: L.text, rich: L.rich, align: 'left', verticalAlign: 'middle' }
  });
  L.sq.forEach(function (s) {
    graphics.push({
      type: 'rect', z: 101, silent: true,
      shape: { x: s[0] - 4.5, y: L.sy - 4.5, width: 9, height: 9 },
      style: { fill: s[1] }
    });
  });
  graphics.push({
    type: 'text', z: 101, silent: true, x: L.lx, y: L.ly,
    style: { text: L.letter, font: 'italic 28px ' + serif, fill: '#000', align: 'center', verticalAlign: 'middle' }
  });
});

var chart = echarts.init(document.getElementById('main'), null, { renderer: 'canvas' });
chart.setOption({
  animation: false,
  backgroundColor: '#fff',
  grid: grids,
  xAxis: xAxes,
  yAxis: yAxes,
  series: series,
  graphic: graphics
});
</script>
</body>
</html>
